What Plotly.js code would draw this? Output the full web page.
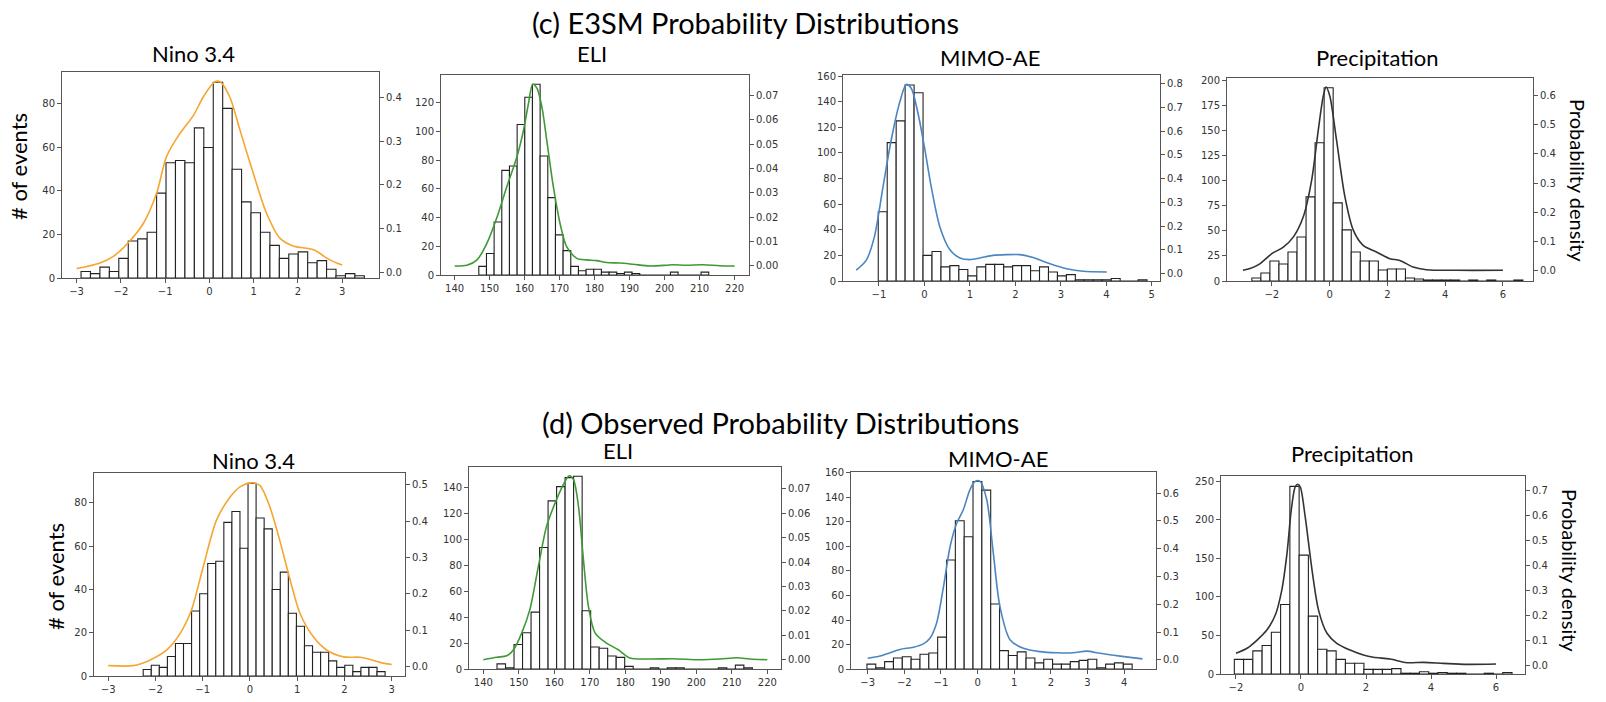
<!DOCTYPE html>
<html>
<head>
<meta charset="utf-8">
<script src="https://cdn.plot.ly/plotly-3.0.1.min.js"></script>
<style>html,body{margin:0;padding:0;background:#fff;}#chart{width:1606px;height:702px;}</style>
</head>
<body>
<div id="chart"></div>
<script>
// ---------- DATA ----------
// (c) E3SM — Nino 3.4
const e3smNinoBinStart = -2.90, e3smNinoBinWidth = 0.2133;
const e3smNinoCounts = [3,2,5,3,9,17,18,21,39,53,54,53,69,60,90,78,50,35,30,21,15,9,11,12,7,8,4,1,2,1];
const e3smNinoKdeX = [-3,-2.47,-2.17,-1.83,-1.49,-1.19,-0.97,-0.67,-0.36,-0.14,0.12,0.24,0.46,0.69,0.99,1.29,1.59,1.89,2.35,2.72,3.0];
const e3smNinoKdeY = [0.008,0.021,0.036,0.068,0.112,0.182,0.265,0.318,0.360,0.402,0.437,0.437,0.402,0.326,0.227,0.135,0.078,0.060,0.051,0.028,0.016];

// (c) E3SM — ELI
const e3smEliBinStart = 146.9, e3smEliBinWidth = 2.19;
const e3smEliCounts = [6,15,37,73,76,105,124,133,83,54,28,17,6,3,4,4,2,2,1,2,1,0,0,0,0,2,0,0,0,2];
const e3smEliKdeX = [140,143.5,146.4,149.2,152.1,154.9,157.8,159.7,161.1,162.3,163.5,164.9,166.3,168.2,170.1,172.0,174.9,177.7,180.6,183.4,187.2,191.0,195.8,200.5,202.4,206.2,211.0,215.7,220];
const e3smEliKdeY = [0,0.0003,0.0025,0.0093,0.020,0.0325,0.0448,0.0558,0.0667,0.0745,0.0729,0.0654,0.0517,0.0325,0.0175,0.0079,0.0031,0.0025,0.0022,0.0014,0.0012,0.0007,0,0.0003,0.0005,0.0003,0.0005,0.0001,0];

// (c) E3SM — MIMO-AE
const e3smMimoBinStart = -1.015, e3smMimoBinWidth = 0.197;
const e3smMimoCounts = [54,108,125,153,147,20,23,11,12,9,4,11,13,13,11,12,12,8,11,7,4,5,1,1,1,1,2,0,0,1];
const e3smMimoKdeX = [-1.5,-1.28,-1.10,-0.91,-0.73,-0.54,-0.40,-0.29,-0.14,0.0,0.15,0.34,0.56,0.78,1.0,1.22,1.51,1.8,2.1,2.39,2.76,3.13,3.49,4.01];
const e3smMimoKdeY = [0.015,0.056,0.155,0.366,0.563,0.724,0.797,0.781,0.675,0.534,0.366,0.197,0.101,0.066,0.059,0.066,0.077,0.080,0.080,0.068,0.042,0.021,0.010,0.007];

// (c) E3SM — Precipitation
const e3smPrecBinStart = -2.69, e3smPrecBinWidth = 0.3127;
const e3smPrecCounts = [3,8,20,17,29,44,84,138,193,78,51,29,20,20,11,12,12,3,2,1,1,1,1,0,1,0,1,0,0,1];
const e3smPrecKdeX = [-3.0,-2.75,-2.40,-2.0,-1.60,-1.25,-0.91,-0.62,-0.39,-0.22,-0.12,0.01,0.24,0.53,0.82,1.16,1.62,2.09,2.43,2.89,3.35,4.39,6.0];
const e3smPrecKdeY = [0.0,0.006,0.023,0.057,0.080,0.115,0.184,0.310,0.483,0.598,0.630,0.598,0.448,0.253,0.138,0.086,0.063,0.040,0.034,0.011,0.002,0.0,0.0];

// (d) Observed — Nino 3.4
const obsNinoBinStart = -2.259, obsNinoBinWidth = 0.1706;
const obsNinoCounts = [3,5,4,9,15,15,30,38,52,53,71,76,59,89,73,68,40,48,29,23,14,11,11,7,4,5,2,4,4,2];
const obsNinoKdeX = [-3,-2.47,-2.12,-1.76,-1.48,-1.24,-0.99,-0.71,-0.42,-0.21,0.03,0.21,0.42,0.63,0.85,1.06,1.34,1.62,1.98,2.33,2.54,2.75,3.0];
const obsNinoKdeY = [0.003,0.003,0.018,0.046,0.091,0.155,0.274,0.402,0.466,0.494,0.505,0.498,0.439,0.347,0.238,0.146,0.082,0.046,0.027,0.026,0.020,0.012,0.006];

// (d) Observed — ELI
const obsEliBinStart = 143.85, obsEliBinWidth = 2.398;
const obsEliCounts = [4,1,19,28,44,94,130,141,148,149,45,17,16,10,9,2,0,0,1,0,1,1,0,0,0,0,1,0,3,1];
const obsEliKdeX = [140,143.8,146.6,148.5,150.8,153.1,155.5,157.8,160.2,162.5,164.2,165.4,166.8,168.2,169.6,171.5,174.7,178.0,181.3,186.9,193.5,201.0,206.7,211.4,215.1,220];
const obsEliKdeY = [0.0,0.001,0.0016,0.0041,0.0109,0.0205,0.0382,0.0546,0.0641,0.0716,0.0753,0.0737,0.0628,0.0409,0.0218,0.0109,0.0068,0.0041,0.0007,0.0003,0.0004,0,0.0003,0.0008,0.0003,0];

// (d) Observed — MIMO-AE
const obsMimoBinStart = -3.02, obsMimoBinWidth = 0.2413;
const obsMimoCounts = [4,1,6,9,10,8,12,13,26,89,121,108,153,146,53,15,11,14,9,5,8,4,4,6,7,8,1,4,5,4];
const obsMimoKdeX = [-3.0,-2.66,-2.39,-2.12,-1.75,-1.48,-1.30,-1.12,-0.93,-0.75,-0.57,-0.39,-0.21,-0.07,0.07,0.25,0.43,0.61,0.89,1.25,1.70,2.16,2.61,2.98,3.34,3.89,4.5];
const obsMimoKdeY = [0.006,0.014,0.026,0.038,0.046,0.058,0.078,0.132,0.264,0.408,0.492,0.540,0.612,0.642,0.642,0.576,0.384,0.192,0.072,0.042,0.030,0.026,0.026,0.032,0.024,0.014,0.004];

// (d) Observed — Precipitation
const obsPrecBinStart = -2.05, obsPrecBinWidth = 0.2847;
const obsPrecCounts = [19,19,30,37,54,90,243,154,75,32,30,19,14,14,6,6,6,7,1,1,3,1,2,1,1,0,0,1,0,2];
const obsPrecKdeX = [-2,-1.66,-1.35,-1.05,-0.79,-0.59,-0.43,-0.30,-0.18,-0.10,-0.02,0.13,0.34,0.54,0.80,1.10,1.51,1.92,2.23,2.74,3.26,3.77,4.38,5.10,6.0];
const obsPrecKdeY = [0.047,0.067,0.10,0.14,0.20,0.30,0.447,0.62,0.713,0.724,0.713,0.593,0.38,0.22,0.127,0.087,0.06,0.04,0.031,0.024,0.0093,0.0107,0.0067,0.0027,0.004];

const panelTitles = ["Nino 3.4","ELI","MIMO-AE","Precipitation","Nino 3.4","ELI","MIMO-AE","Precipitation"];
const figureTitles = ["(c) E3SM Probability Distributions","(d) Observed Probability Distributions"];
const leftAxisTitle = "# of events";
const rightAxisTitle = "Probability density";

// ---------- LAYOUT / STYLE ----------
const W = 1606, H = 702;
const panels = [
  {counts:e3smNinoCounts, start:e3smNinoBinStart, width:e3smNinoBinWidth, kx:e3smNinoKdeX, ky:e3smNinoKdeY, color:'#f5a630',
   box:[62,379,72,278], xr:[-3.33,3.83], yl:[0,94.7], yr:[-0.0137,0.4595], xt:[-3,-2,-1,0,1,2,3], ylt:[0,20,40,60,80], yrt:[0,0.1,0.2,0.3,0.4], rf:'.1f'},
  {counts:e3smEliCounts, start:e3smEliBinStart, width:e3smEliBinWidth, kx:e3smEliKdeX, ky:e3smEliKdeY, color:'#3d9a35',
   box:[441,749,75,275], xr:[136.1,224.1], yl:[0,139.5], yr:[-0.0037,0.0783], xt:[140,150,160,170,180,190,200,210,220], ylt:[0,20,40,60,80,100,120], yrt:[0,0.01,0.02,0.03,0.04,0.05,0.06,0.07], rf:'.2f'},
  {counts:e3smMimoCounts, start:e3smMimoBinStart, width:e3smMimoBinWidth, kx:e3smMimoKdeX, ky:e3smMimoKdeY, color:'#4a86c2',
   box:[843,1160,75,281], xr:[-1.79,5.18], yl:[0,160.8], yr:[-0.031,0.837], xt:[-1,0,1,2,3,4,5], ylt:[0,20,40,60,80,100,120,140,160], yrt:[0,0.1,0.2,0.3,0.4,0.5,0.6,0.7,0.8], rf:'.1f'},
  {counts:e3smPrecCounts, start:e3smPrecBinStart, width:e3smPrecBinWidth, kx:e3smPrecKdeX, ky:e3smPrecKdeY, color:'#333333',
   box:[1227,1533,78,281], xr:[-3.55,7.04], yl:[0,202.7], yr:[-0.0368,0.661], xt:[-2,0,2,4,6], ylt:[0,25,50,75,100,125,150,175,200], yrt:[0,0.1,0.2,0.3,0.4,0.5,0.6], rf:'.1f'},
  {counts:obsNinoCounts, start:obsNinoBinStart, width:obsNinoBinWidth, kx:obsNinoKdeX, ky:obsNinoKdeY, color:'#f5a630',
   box:[94,405,473,676], xr:[-3.30,3.28], yl:[0,93.8], yr:[-0.0255,0.532], xt:[-3,-2,-1,0,1,2,3], ylt:[0,20,40,60,80], yrt:[0,0.1,0.2,0.3,0.4,0.5], rf:'.1f'},
  {counts:obsEliCounts, start:obsEliBinStart, width:obsEliBinWidth, kx:obsEliKdeX, ky:obsEliKdeY, color:'#3d9a35',
   box:[469,781,467,669], xr:[135.96,223.85], yl:[0,156.2], yr:[-0.0038,0.0789], xt:[140,150,160,170,180,190,200,210,220], ylt:[0,20,40,60,80,100,120,140], yrt:[0,0.01,0.02,0.03,0.04,0.05,0.06,0.07], rf:'.2f'},
  {counts:obsMimoCounts, start:obsMimoBinStart, width:obsMimoBinWidth, kx:obsMimoKdeX, ky:obsMimoKdeY, color:'#4a86c2',
   box:[851,1156,472,669], xr:[-3.455,4.87], yl:[0,160.8], yr:[-0.0324,0.676], xt:[-3,-2,-1,0,1,2,3,4], ylt:[0,20,40,60,80,100,120,140,160], yrt:[0,0.1,0.2,0.3,0.4,0.5,0.6], rf:'.1f'},
  {counts:obsPrecCounts, start:obsPrecBinStart, width:obsPrecBinWidth, kx:obsPrecKdeX, ky:obsPrecKdeY, color:'#333333',
   box:[1221,1525,476,674], xr:[-2.46,6.89], yl:[0,256.5], yr:[-0.036,0.757], xt:[-2,0,2,4,6], ylt:[0,50,100,150,200,250], yrt:[0,0.1,0.2,0.3,0.4,0.5,0.6,0.7], rf:'.1f'}
];

const tickFont = {family:'DejaVu Sans, sans-serif', size:10, color:'#333'};
const axisLine = '#555';
const traces = [];
const layout = {
  width:W, height:H, margin:{l:0,r:0,t:0,b:0}, paper_bgcolor:'#fff', plot_bgcolor:'rgba(0,0,0,0)',
  showlegend:false, bargap:0, annotations:[]
};

panels.forEach((p, i) => {
  const n = i + 1;
  const xId = n === 1 ? 'x' : 'x' + n;
  const ylNum = 2 * n - 1, yrNum = 2 * n;
  const ylId = ylNum === 1 ? 'y' : 'y' + ylNum;
  const yrId = 'y' + yrNum;
  const xKey = n === 1 ? 'xaxis' : 'xaxis' + n;
  const ylKey = ylNum === 1 ? 'yaxis' : 'yaxis' + ylNum;
  const yrKey = 'yaxis' + yrNum;
  const centers = p.counts.map((_, k) => p.start + (k + 0.5) * p.width);
  traces.push({type:'bar', x:centers, y:p.counts, width:p.width, xaxis:xId, yaxis:ylId,
    marker:{color:'#ffffff', line:{color:'#222', width:1.1}}, hoverinfo:'x+y'});
  traces.push({type:'scatter', mode:'lines', x:p.kx, y:p.ky, xaxis:xId, yaxis:yrId,
    line:{color:p.color, width:1.6, shape:'spline', smoothing:0.8}, hoverinfo:'x+y'});
  const [x0,x1,y0,y1] = p.box;
  layout[xKey] = {domain:[x0/W, x1/W], anchor:ylId, range:p.xr, tickvals:p.xt, showgrid:false, zeroline:false,
    showline:true, mirror:true, linecolor:axisLine, linewidth:1, ticks:'outside', ticklen:4, tickcolor:axisLine,
    tickfont:tickFont, fixedrange:true};
  layout[ylKey] = {domain:[1 - y1/H, 1 - y0/H], anchor:xId, range:p.yl, tickvals:p.ylt, showgrid:false, zeroline:false,
    showline:true, mirror:true, linecolor:axisLine, linewidth:1, ticks:'outside', ticklen:4, tickcolor:axisLine,
    tickfont:tickFont, fixedrange:true};
  layout[yrKey] = {overlaying:ylId, side:'right', anchor:xId, range:p.yr, tickvals:p.yrt, tickformat:p.rf,
    showgrid:false, zeroline:false, showline:false, ticks:'outside', ticklen:4, tickcolor:axisLine,
    tickfont:tickFont, fixedrange:true};
});

const ann = (text, px, py, size, angle) => ({text:text, xref:'paper', yref:'paper', x:px/W, y:1 - py/H,
  xanchor:'center', yanchor:'middle', showarrow:false, textangle:angle || 0,
  font:{family:'Lato, Open Sans, sans-serif', size:size, color:'#000'}});

layout.annotations.push(ann(figureTitles[0], 745, 22, 29));
layout.annotations.push(ann(figureTitles[1], 780, 422, 29));
const titlePos = [[193,53],[592,53],[990,58],[1377,57],[253,460],[618,450],[998,458],[1352,453]];
panelTitles.forEach((t, i) => layout.annotations.push(ann(t, titlePos[i][0], titlePos[i][1], 22)));
layout.annotations.push(ann(leftAxisTitle, 18, 167, 22, -90));
layout.annotations.push(ann(leftAxisTitle, 55, 577, 22, -90));
layout.annotations.push(ann(rightAxisTitle, 1578, 180, 20, 90));
layout.annotations.push(ann(rightAxisTitle, 1570, 570, 20, 90));

Plotly.newPlot('chart', traces, layout, {staticPlot:true, displayModeBar:false});
</script>
</body>
</html>
